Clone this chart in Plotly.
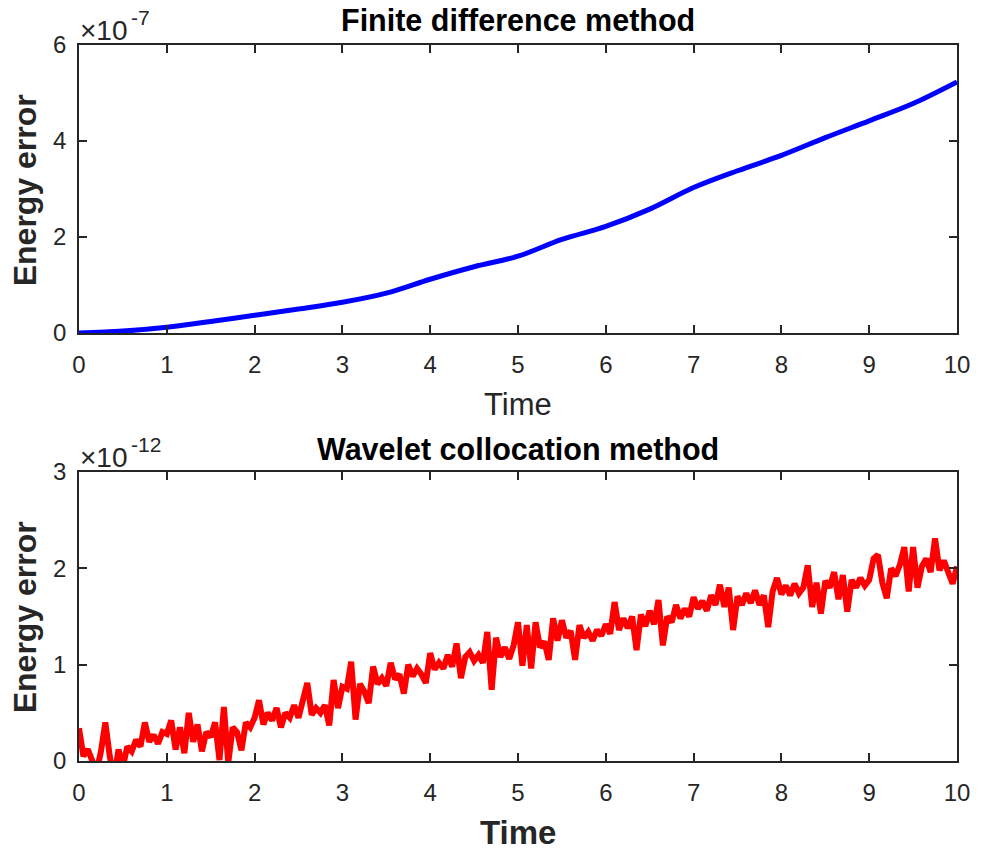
import plotly.graph_objects as go
from plotly.subplots import make_subplots

# ---------------- data ----------------
# Finite difference method (units of 1e-7)
fd_time = [0.0, 0.5, 1.0, 1.5, 2.0, 2.5, 3.0, 3.5, 4.0, 4.5, 5.0,
           5.5, 6.0, 6.5, 7.0, 7.5, 8.0, 8.5, 9.0, 9.5, 10.0]
fd_err = [0.0, 0.04, 0.12, 0.24, 0.37, 0.50, 0.64, 0.83, 1.12, 1.38, 1.60,
          1.95, 2.22, 2.58, 3.03, 3.38, 3.70, 4.07, 4.42, 4.78, 5.23]

# Wavelet collocation method (units of 1e-12), sampled every 0.05
wc_err = [
    0.34, 0.05, 0.12, 0.02, -0.11, 0.10, 0.40, 0.05, -0.18, 0.12,
    -0.06, 0.15, 0.10, 0.22, 0.15, 0.40, 0.20, 0.27, 0.18, 0.30,
    0.28, 0.42, 0.12, 0.35, 0.08, 0.50, 0.20, 0.38, 0.10, 0.30,
    0.25, 0.40, 0.01, 0.56, -0.02, 0.35, 0.30, 0.11, 0.40, 0.35,
    0.45, 0.63, 0.38, 0.50, 0.42, 0.55, 0.35, 0.50, 0.45, 0.58,
    0.45, 0.63, 0.81, 0.48, 0.55, 0.50, 0.58, 0.37, 0.84, 0.55,
    0.77, 0.75, 1.03, 0.43, 0.80, 0.72, 0.60, 0.98, 0.80, 0.86,
    0.78, 1.02, 0.85, 0.90, 0.70, 1.00, 0.88, 0.96, 0.90, 0.81,
    1.12, 0.95, 1.02, 0.96, 1.10, 0.98, 1.22, 0.86, 1.08, 1.13,
    1.04, 1.10, 1.02, 1.34, 0.74, 1.28, 1.08, 1.18, 1.06, 1.20,
    1.44, 0.99, 1.41, 0.96, 1.44, 1.18, 1.24, 1.05, 1.48, 1.25,
    1.46, 1.28, 1.35, 1.05, 1.41, 1.28, 1.34, 1.25, 1.36, 1.30,
    1.42, 1.32, 1.65, 1.36, 1.48, 1.38, 1.50, 1.15, 1.52, 1.40,
    1.56, 1.42, 1.67, 1.20, 1.50, 1.44, 1.62, 1.48, 1.58, 1.50,
    1.70, 1.58, 1.66, 1.56, 1.72, 1.62, 1.83, 1.60, 1.80, 1.36,
    1.71, 1.62, 1.74, 1.64, 1.77, 1.62, 1.72, 1.39, 1.76, 1.90,
    1.73, 1.82, 1.72, 1.84, 1.74, 1.80, 2.03, 1.60, 1.85, 1.53,
    1.87, 1.80, 1.96, 1.68, 1.93, 1.55, 1.88, 1.80, 1.90, 1.82,
    1.88, 2.10, 2.14, 1.85, 1.69, 2.00, 1.92, 2.04, 2.22, 1.76,
    2.22, 1.80, 2.02, 2.10, 1.96, 2.31, 1.98, 2.08, 1.95, 1.84,
    2.02,
]
wc_time = [i * 0.05 for i in range(len(wc_err))]

x_ticks = [0, 1, 2, 3, 4, 5, 6, 7, 8, 9, 10]
top_yticks = [0, 2, 4, 6]
bot_yticks = [0, 1, 2, 3]

# ---------------- layout geometry ----------------
W, H = 982, 853
L, R, T, B = 79, 20, 45, 92
PW, PH = W - L - R, H - T - B


def px(xp):
    return (xp - L) / PW


def py(yp):
    return (H - B - yp) / PH


top_dom = [py(333), 1.0]
bot_dom = [0.0, py(472)]

AX = "#262626"
FONT = "Liberation Sans, Arial, Helvetica, sans-serif"

fig = make_subplots(rows=2, cols=1)

fig.add_trace(go.Scatter(x=fd_time, y=fd_err, mode="lines",
                         line=dict(color="#0000ff", width=5, shape="spline"),
                         showlegend=False), row=1, col=1)
fig.add_trace(go.Scatter(x=wc_time, y=wc_err, mode="lines",
                         line=dict(color="#ff0000", width=6),
                         showlegend=False), row=2, col=1)

axis_common = dict(
    showline=True, linecolor=AX, linewidth=1.5, mirror="allticks",
    ticks="inside", ticklen=8, tickwidth=1.5, tickcolor=AX,
    showgrid=False, zeroline=False,
    tickfont=dict(family=FONT, size=24, color=AX),
)

fig.update_xaxes(range=[0, 10], tickvals=x_ticks, ticklabelstandoff=9, **axis_common)
fig.update_yaxes(**axis_common)
fig.update_yaxes(range=[0, 6], tickvals=top_yticks, domain=top_dom, ticklabelstandoff=6, row=1, col=1)
fig.update_yaxes(range=[0, 3], tickvals=bot_yticks, domain=bot_dom, ticklabelstandoff=6, row=2, col=1)

ann = []


def text(t, xp, yp, size, bold=False, color="black", angle=0, xanchor="center"):
    ann.append(dict(
        text=f"<b>{t}</b>" if bold else t,
        x=px(xp), y=py(yp), xref="paper", yref="paper",
        xanchor=xanchor, yanchor="middle", showarrow=False, textangle=angle,
        font=dict(family=FONT, size=size, color=color),
        xshift=0, yshift=0,
    ))


text("Finite difference method", 520, 20, 30.5, bold=True)
text("Wavelet collocation method", 520, 449, 30.5, bold=True)
text("Time", 520, 404, 31, color=AX)
text("Time", 520, 832, 33, bold=True, color=AX)
text("Energy error", 25, 190, 32, bold=True, color=AX, angle=-90)
text("Energy error", 25, 617, 32, bold=True, color=AX, angle=-90)
# exponent labels: base and superscript as separate texts
text("×10", 78, 30, 28, color=AX, xanchor="left")
text("-7", 129, 17, 21, color=AX, xanchor="left")
text("×10", 78, 457, 28, color=AX, xanchor="left")
text("-12", 129, 444, 21, color=AX, xanchor="left")

fig.update_layout(
    width=W, height=H,
    margin=dict(l=L, r=R, t=T, b=B),
    paper_bgcolor="white", plot_bgcolor="white",
    annotations=ann,
    showlegend=False,
)

fig.write_html("out.html")
